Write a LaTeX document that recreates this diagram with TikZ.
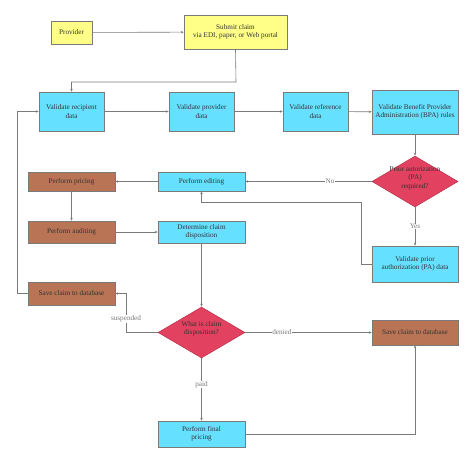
\documentclass[tikz,border=0pt]{standalone}
\usepackage{fontspec}
\setmainfont{Liberation Serif}
\usetikzlibrary{shapes.geometric,arrows.meta}

\definecolor{boxyellow}{HTML}{FFFF88}
\definecolor{boxcyan}{HTML}{66E0FF}
\definecolor{boxbrown}{HTML}{B87454}
\definecolor{boxred}{HTML}{E2415F}
\definecolor{linegray}{HTML}{7A7A7A}
\definecolor{textgray}{HTML}{333333}

\tikzset{
	plaintext/.style={inner sep=1pt, align=center,
		font=\fontsize{7.2}{8.4}\selectfont, text=textgray},
	box/.style={plaintext, draw=linegray, line width=0.5pt},
	yellowbox/.style={box, fill=boxyellow},
	cyanbox/.style={box, fill=boxcyan},
	brownbox/.style={box, fill=boxbrown},
	decision/.style={box, diamond, fill=boxred, draw=boxred!80!black, inner sep=0pt},
	flow/.style={draw=linegray, line width=0.6pt, -{Stealth[length=3pt,width=2.4pt]}},
	lbl/.style={fill=white, inner sep=0.5pt, text=linegray, font=\fontsize{7.2}{8.4}\selectfont}
}

\begin{document}
\begin{tikzpicture}[x=1pt, y=-1pt]
\useasboundingbox (0,0) rectangle (474,463);

\node[yellowbox, minimum width=41pt, minimum height=23pt] (provider) at (71.5,32.5) {Provider};
\node[yellowbox, minimum width=103pt, minimum height=34pt] (submit) at (235.5,32) {Submit claim\\via EDI, paper, or Web portal};

\node[cyanbox, minimum width=65pt, minimum height=39pt] (recipient) at (71.5,111.5) {Validate recipient\\data};
\node[cyanbox, minimum width=65pt, minimum height=39pt] (providerdata) at (201.5,111.5) {Validate provider\\data};
\node[cyanbox, minimum width=65pt, minimum height=39pt] (referencedata) at (315.5,111.5) {Validate reference\\data};
\node[cyanbox, minimum width=86pt, minimum height=44pt] (bpa) at (415,112) {Validate Benefit Provider\\Administration (BPA) rules};

\node[decision, minimum width=86pt, minimum height=51pt] (paquestion) at (415,181.5) {};
\node[plaintext] (patext) at (415,178) {Prior autorization\\(PA)\\required?};

\node[brownbox, minimum width=87pt, minimum height=19pt] (pricing) at (71.5,181.5) {Perform pricing};
\node[cyanbox, minimum width=87pt, minimum height=19pt] (editing) at (201.5,181.5) {Perform editing};
\node[brownbox, minimum width=87pt, minimum height=22pt] (auditing) at (71.5,232) {Perform auditing};
\node[cyanbox, minimum width=87pt, minimum height=22pt] (disposition) at (201.5,232) {Determine claim\\disposition};
\node[cyanbox, minimum width=86pt, minimum height=36pt] (padata) at (415,264) {Validate prior\\authorization (PA) data};

\node[brownbox, minimum width=87pt, minimum height=23pt] (saveleft) at (71.5,293.5) {Save claim to database};
\node[decision, minimum width=87pt, minimum height=51pt] (whatdisp) at (201.5,332.5) {};
\node[plaintext] (disptext) at (201.5,329) {What is claim\\disposition?};
\node[brownbox, minimum width=86pt, minimum height=25pt] (saveright) at (415,332.5) {Save claim to database};
\node[cyanbox, minimum width=87pt, minimum height=26pt] (finalpricing) at (201.5,434) {Perform final\\pricing};

\coordinate (submitbend) at (236,82);
\coordinate (paback) at (361,202);
\coordinate (suspbend) at (126,332.5);
\coordinate (loopbend) at (17,293.5);

\draw[flow] (provider) -- (submit);
\draw[flow] (submit.south) -- (submitbend) -| (recipient.north);
\draw[flow] (recipient) -- (providerdata);
\draw[flow] (providerdata) -- (referencedata);
\draw[flow] (referencedata) -- (bpa);
\draw[flow] (bpa) -- (paquestion);
\draw[flow] (paquestion.west) -- node[lbl, pos=0.33]{No} (editing.east);
\draw[flow] (editing) -- (pricing);
\draw[flow] (pricing) -- (auditing);
\draw[flow] (auditing) -- (disposition);
\draw[flow] (paquestion.south) -- node[lbl, pos=0.5]{Yes} (padata.north);
\draw[flow] (padata.west) -| (paback) -| (editing.south);
\draw[flow] (disposition) -- (whatdisp);
\draw[flow] (whatdisp.west) -- (suspbend) |- node[lbl, pos=0.17]{suspended} (saveleft.east);
\draw[flow] (whatdisp.east) -- node[lbl, pos=0.29]{denied} (saveright.west);
\draw[flow] (whatdisp.south) -- node[lbl, pos=0.42]{paid} (finalpricing.north);
\draw[flow] (finalpricing.east) -| (saveright.south);
\draw[flow] (saveleft.west) -- (loopbend) |- (recipient.west);

\end{tikzpicture}
\end{document}
